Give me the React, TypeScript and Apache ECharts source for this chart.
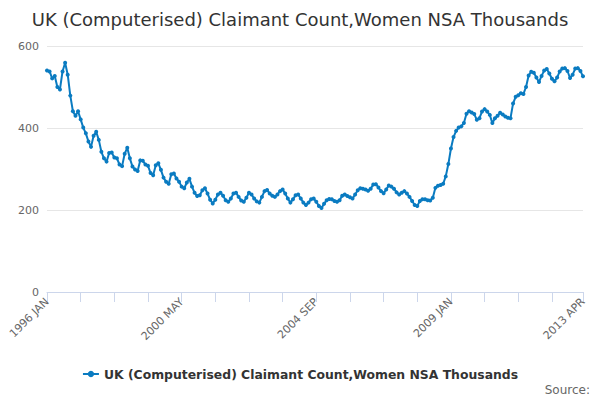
import React, { useEffect, useRef } from "react";
import * as echarts from "echarts";

const MONTHS = ["JAN", "FEB", "MAR", "APR", "MAY", "JUN", "JUL", "AUG", "SEP", "OCT", "NOV", "DEC"];
const START_YEAR = 1996;
const END_YEAR = 2013;
const END_MONTH = 4;

const categories: string[] = [];
for (let y = START_YEAR; y <= END_YEAR; y++) {
  for (let m = 0; m < 12; m++) {
    if (y === END_YEAR && m >= END_MONTH) break;
    categories.push(`${y} ${MONTHS[m]}`);
  }
}

const v1996 = [540, 538, 521, 527, 500, 494, 538, 559, 530, 479, 441, 430];
const v1997 = [441, 421, 401, 387, 367, 354, 381, 391, 371, 342, 326, 318];
const v1998 = [339, 340, 328, 326, 311, 307, 337, 352, 326, 306, 299, 295];
const v1999 = [321, 320, 311, 308, 290, 285, 309, 314, 298, 279, 269, 264];
const v2000 = [287, 289, 277, 269, 257, 253, 267, 276, 257, 242, 234, 236];
const v2001 = [248, 253, 240, 225, 216, 225, 238, 242, 235, 224, 220, 228];
const v2002 = [240, 242, 232, 223, 220, 230, 242, 238, 228, 221, 218, 232];
const v2003 = [246, 249, 240, 235, 232, 238, 246, 250, 240, 228, 218, 226];
const v2004 = [236, 238, 228, 218, 212, 218, 226, 228, 220, 210, 205, 215];
const v2005 = [224, 227, 226, 222, 220, 224, 235, 238, 234, 231, 228, 238];
const v2006 = [248, 253, 252, 250, 247, 252, 262, 263, 255, 246, 241, 250];
const v2007 = [260, 257, 252, 243, 238, 242, 246, 240, 232, 222, 212, 210];
const v2008 = [222, 226, 226, 224, 223, 230, 254, 259, 261, 264, 282, 312];
const v2009 = [350, 378, 393, 401, 404, 412, 435, 441, 438, 434, 420, 424];
const v2010 = [440, 446, 440, 432, 412, 424, 430, 437, 433, 428, 425, 424];
const v2011 = [460, 476, 480, 485, 483, 500, 528, 537, 535, 523, 512, 527];
const v2012 = [540, 544, 533, 520, 514, 523, 538, 545, 546, 539, 522, 530];
const v2013 = [545, 546, 539, 526];

const values = [
  ...v1996, ...v1997, ...v1998, ...v1999, ...v2000, ...v2001,
  ...v2002, ...v2003, ...v2004, ...v2005, ...v2006, ...v2007,
  ...v2008, ...v2009, ...v2010, ...v2011, ...v2012, ...v2013,
];

const yTicks = [0, 200, 400, 600];
const SERIES_NAME = "UK (Computerised) Claimant Count,Women NSA Thousands";
const TITLE = "UK (Computerised) Claimant Count,Women NSA Thousands";
const FONT = "'DejaVu Sans', 'Liberation Sans', sans-serif";
const COLOR = "#0a7bc1";

export default function App() {
  const ref = useRef<HTMLDivElement>(null);
  useEffect(() => {
    if (!ref.current) return;
    const chart = echarts.init(ref.current, undefined, { renderer: "svg" });
    const last = categories.length - 1;
    chart.setOption({
      animation: false,
      backgroundColor: "#ffffff",
      textStyle: { fontFamily: FONT },
      title: {
        text: TITLE,
        left: "center",
        top: 5,
        textStyle: { fontFamily: FONT, fontSize: 18, fontWeight: "normal", color: "#333333" },
      },
      grid: { left: 47, right: 17, top: 46, bottom: 108 },
      legend: {
        bottom: 15,
        left: "center",
        itemWidth: 16,
        itemHeight: 8,
        textStyle: { fontFamily: FONT, fontSize: 12.4, fontWeight: "bold", color: "#333333" },
        data: [SERIES_NAME],
      },
      xAxis: {
        type: "category",
        data: categories,
        boundaryGap: false,
        axisLine: { lineStyle: { color: "#ccd6eb" } },
        axisTick: {
          length: 10,
          lineStyle: { color: "#ccd6eb" },
          interval: (i: number) => i % 13 === 0 || i === last,
        },
        axisLabel: {
          rotate: 45,
          color: "#666666",
          fontSize: 11,
          fontFamily: FONT,
          margin: 8,
          interval: (i: number) => i % 52 === 0 || i === last,
        },
        splitLine: { show: false },
      },
      yAxis: {
        type: "value",
        min: yTicks[0],
        max: yTicks[yTicks.length - 1],
        interval: 200,
        axisLine: { show: false },
        axisTick: { show: false },
        axisLabel: { color: "#666666", fontSize: 11, fontFamily: FONT, margin: 8 },
        splitLine: { lineStyle: { color: "#e6e6e6" } },
      },
      series: [
        {
          name: SERIES_NAME,
          type: "line",
          data: values,
          showAllSymbol: true,
          symbol: "circle",
          symbolSize: 4,
          itemStyle: { color: COLOR },
          lineStyle: { color: COLOR, width: 2 },
        },
      ],
      graphic: [
        {
          type: "text",
          right: 10,
          top: 384,
          style: { text: "Source:", fill: "#666666", fontSize: 12, fontFamily: FONT },
        },
      ],
    });
    return () => chart.dispose();
  }, []);
  return <div ref={ref} style={{ position: "absolute", left: 0, top: 0, width: 600, height: 400 }} />;
}
